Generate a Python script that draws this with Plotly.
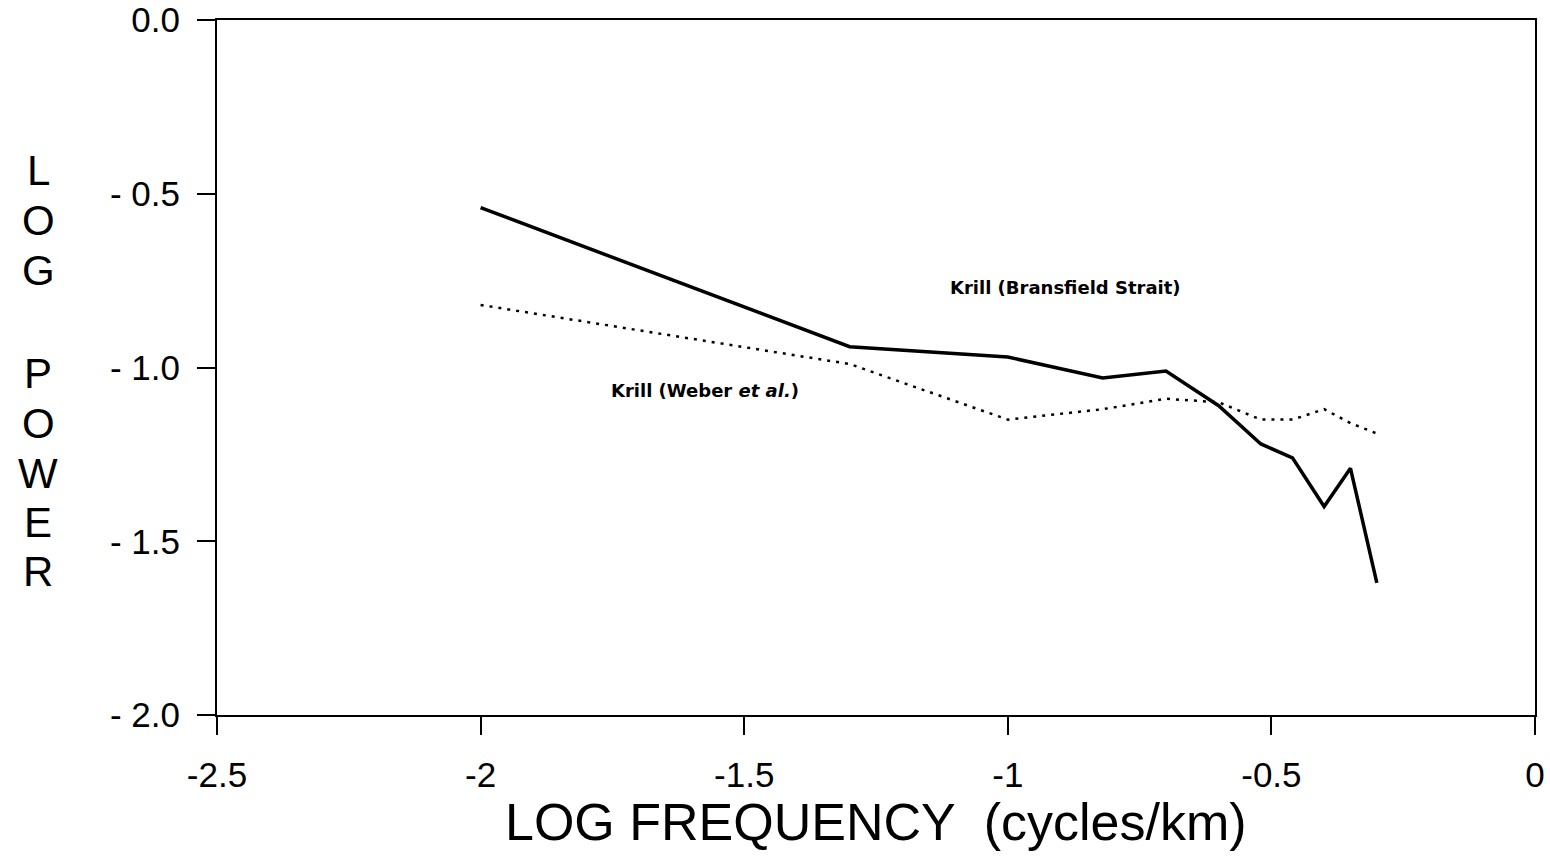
import plotly.graph_objects as go

# Krill (Bransfield Strait) - solid line
bransfield_x = [-2.0, -1.3, -1.0, -0.82, -0.7, -0.6, -0.52, -0.46, -0.4, -0.35, -0.3]
bransfield_y = [-0.54, -0.94, -0.97, -1.03, -1.01, -1.11, -1.22, -1.26, -1.40, -1.29, -1.62]

# Krill (Weber et al.) - dotted line
weber_x = [-2.0, -1.3, -1.0, -0.82, -0.7, -0.6, -0.52, -0.46, -0.4, -0.35, -0.3]
weber_y = [-0.82, -0.99, -1.15, -1.12, -1.09, -1.10, -1.15, -1.15, -1.12, -1.16, -1.19]

x_ticks = [-2.5, -2.0, -1.5, -1.0, -0.5, 0.0]
x_ticktext = ["-2.5", "-2", "-1.5", "-1", "-0.5", "0"]
y_ticks = [0.0, -0.5, -1.0, -1.5, -2.0]
y_ticktext = ["0.0", "- 0.5", "- 1.0", "- 1.5", "- 2.0"]

fig = go.Figure()
fig.add_trace(go.Scatter(x=bransfield_x, y=bransfield_y, mode="lines",
                         line=dict(color="black", width=3.5), showlegend=False))
fig.add_trace(go.Scatter(x=weber_x, y=weber_y, mode="lines",
                         line=dict(color="black", width=2.5, dash="3px,6px"), showlegend=False))

lab_font = dict(family="DejaVu Sans", size=18, color="black")
fig.add_annotation(x=-0.89, y=-0.771, text="<b>Krill (Bransfield Strait)</b>",
                   showarrow=False, font=lab_font)
fig.add_annotation(x=-1.574, y=-1.065, text="<b>Krill (Weber <i>et al.</i>)</b>",
                   showarrow=False, font=lab_font)

# X axis title
fig.add_annotation(xref="paper", yref="paper", x=(876 - 217) / 1318, y=-(822 - 715) / 695,
                   text="LOG FREQUENCY  (cycles/km)", showarrow=False,
                   font=dict(family="Liberation Sans", size=52, color="black"),
                   xanchor="center", yanchor="middle")

# Y axis title (stacked letters)
letters = ["L", "O", "G", "P", "O", "W", "E", "R"]
letter_px = [170, 220, 270, 373, 423, 473, 522, 571]
for ch, py in zip(letters, letter_px):
    fig.add_annotation(xref="paper", yref="paper", x=(38 - 217) / 1318, y=(715 - py) / 695,
                       text=ch, showarrow=False,
                       font=dict(family="Liberation Sans", size=42, color="black"),
                       xanchor="center", yanchor="middle")

fig.update_xaxes(range=[-2.5, 0], tickvals=x_ticks, ticktext=x_ticktext,
                 showgrid=False, zeroline=False, showline=True, linecolor="black",
                 linewidth=2, mirror=True, ticks="outside", ticklen=18, tickwidth=2,
                 tickcolor="black", ticklabelstandoff=10, automargin=False,
                 tickfont=dict(family="Liberation Sans", size=35, color="black"))
fig.update_yaxes(range=[-2, 0], tickvals=y_ticks, ticktext=y_ticktext,
                 showgrid=False, zeroline=False, showline=True, linecolor="black",
                 linewidth=2, mirror=True, ticks="outside", ticklen=18, tickwidth=2,
                 tickcolor="black", ticklabelstandoff=10, automargin=False,
                 tickfont=dict(family="Liberation Sans", size=35, color="black"))

fig.update_layout(width=1550, height=867, margin=dict(l=217, r=15, t=20, b=152),
                  plot_bgcolor="white", paper_bgcolor="white")

fig.write_html("out.html")
